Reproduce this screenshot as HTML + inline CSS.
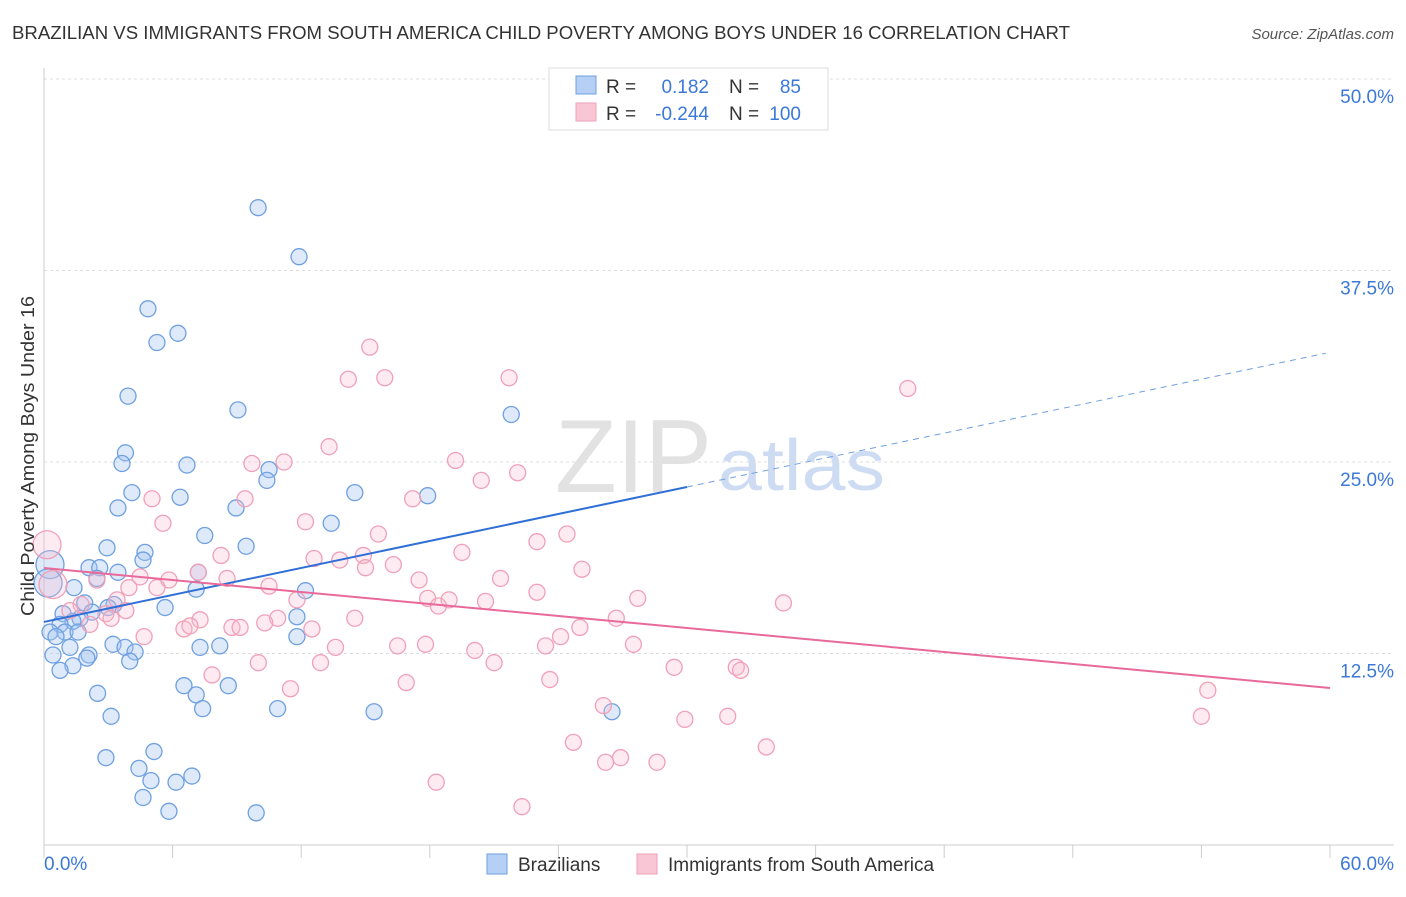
<!DOCTYPE html>
<html><head><meta charset="utf-8"><style>
body{margin:0;background:#fff;font-family:"Liberation Sans",sans-serif;}
svg text{font-family:"Liberation Sans",sans-serif;}
</style></head><body>
<svg id="chart" width="1406" height="892" xmlns="http://www.w3.org/2000/svg">
<text x="12" y="39" font-size="18" fill="#333" textLength="1058" lengthAdjust="spacingAndGlyphs">BRAZILIAN VS IMMIGRANTS FROM SOUTH AMERICA CHILD POVERTY AMONG BOYS UNDER 16 CORRELATION CHART</text>
<text x="1394" y="39" font-size="15" fill="#555" text-anchor="end" font-style="italic">Source: ZipAtlas.com</text>
<text x="555" y="492" font-size="104" fill="#e2e2e2" textLength="157" lengthAdjust="spacingAndGlyphs" font-family="Liberation Serif">ZIP</text>
<text x="718" y="490" font-size="72" fill="#cddcf2" textLength="167" lengthAdjust="spacingAndGlyphs">atlas</text>
<g id="grid"></g><g id="axes"></g><g id="pts"></g><g id="lines"></g>
<text transform="translate(34,456) rotate(-90)" font-size="18" fill="#333" text-anchor="middle" textLength="320" lengthAdjust="spacingAndGlyphs">Child Poverty Among Boys Under 16</text>
<g>
<rect x="549" y="68" width="279" height="62" fill="#fff" stroke="#ddd"/>
<rect x="576" y="76" width="20" height="18" fill="#b5cff5" stroke="#6fa0e0"/>
<rect x="576" y="103" width="20" height="18" fill="#f9c6d5" stroke="#f0a0b8"/>
<text x="606" y="93" font-size="19" fill="#333">R =</text>
<text x="709" y="93" font-size="19" fill="#3b78d8" text-anchor="end">0.182</text>
<text x="729" y="93" font-size="19" fill="#333">N =</text>
<text x="801" y="93" font-size="19" fill="#3b78d8" text-anchor="end">85</text>
<text x="606" y="120" font-size="19" fill="#333">R =</text>
<text x="709" y="120" font-size="19" fill="#3b78d8" text-anchor="end">-0.244</text>
<text x="729" y="120" font-size="19" fill="#333">N =</text>
<text x="801" y="120" font-size="19" fill="#3b78d8" text-anchor="end">100</text>
</g>
<g>
<rect x="487" y="854" width="20" height="20" fill="#b5cff5" stroke="#6fa0e0"/>
<text x="518" y="871" font-size="19" fill="#333">Brazilians</text>
<rect x="637" y="854" width="20" height="20" fill="#f9c6d5" stroke="#f0a0b8"/>
<text x="668" y="871" font-size="19" fill="#333">Immigrants from South America</text>
</g>
</svg>
<script>
const yTicks=[12.5,25,37.5,50];
const yTickLabels=["12.5%","25.0%","37.5%","50.0%"];
const xTicks=[0,6,12,18,24,30,36,42,48,54,60];
const blueX=[9.99,11.9,4.85,6.25,5.27,3.92,9.05,21.8,3.8,3.64,6.67,10.5,10.4,4.1,6.35,14.5,17.9,3.45,8.96,13.4,7.5,9.43,2.94,4.71,4.62,2.1,2.6,3.45,7.2,2.47,7.1,12.2,1.4,1.9,3.27,2.99,5.65,2.24,0.89,1.68,11.8,1.35,0.75,0.28,0.98,0.56,1.59,11.8,3.22,3.78,7.28,8.2,1.21,4.25,2.1,0.42,2.0,4.0,1.35,0.75,6.53,8.6,2.5,7.1,7.4,10.9,15.4,26.5,3.13,5.13,2.89,4.43,4.99,6.9,6.16,4.62,5.83,9.9];
const blueY=[41.6,38.4,35.0,33.4,32.8,29.3,28.4,28.1,25.6,24.9,24.8,24.5,23.8,23.0,22.7,23.0,22.8,22.0,22.0,21.0,20.2,19.5,19.4,19.1,18.6,18.1,18.1,17.8,17.8,17.4,16.7,16.6,16.8,15.8,15.7,15.5,15.5,15.2,15.1,14.8,14.9,14.6,14.4,13.9,13.9,13.6,13.9,13.6,13.1,12.9,12.9,13.0,12.9,12.6,12.4,12.4,12.2,12.0,11.7,11.4,10.4,10.4,9.9,9.8,8.9,8.9,8.7,8.7,8.4,6.1,5.7,5.0,4.2,4.5,4.1,3.1,2.2,2.1];
const blueBigX=[0.28,0.19];
const blueBigY=[18.3,17.1];
const pinkX=[15.2,14.2,15.9,21.7,40.3,13.3,19.2,9.7,11.2,22.1,20.4,5.04,17.2,9.38,5.55,12.2,15.6,24.4,23.0,19.5,8.26,12.6,14.9,13.8,16.3,15.0,25.1,4.48,5.83,7.2,8.54,17.5,21.3,2.47,3.96,5.27,10.5,23.0,17.9,18.9,27.7,11.8,20.6,18.4,34.5,1.73,3.41,3.82,1.21,2.89,7.28,14.5,26.7,10.9,10.3,3.13,2.14,6.53,6.81,8.77,9.15,12.5,25.0,24.1,4.67,17.8,16.5,13.6,23.4,27.5,20.1,12.9,10.0,21.0,29.4,32.3,32.5,7.84,16.9,23.6,11.5,54.3,26.1,31.9,29.9,54.0,24.7,33.7,26.9,26.2,28.6,18.3,22.3];
const pinkY=[32.5,30.4,30.5,30.5,29.8,26.0,25.1,24.9,25.0,24.3,23.8,22.6,22.6,22.6,21.0,21.1,20.3,20.3,19.8,19.1,18.9,18.7,18.9,18.6,18.3,18.1,18.0,17.5,17.3,17.8,17.4,17.3,17.4,17.3,16.8,16.8,16.9,16.5,16.1,16.0,16.1,16.0,15.9,15.6,15.8,15.7,16.0,15.3,15.3,15.1,14.7,14.8,14.8,14.8,14.5,14.8,14.4,14.1,14.3,14.2,14.2,14.1,14.2,13.6,13.6,13.1,13.0,12.9,13.0,13.1,12.7,11.9,11.9,11.9,11.6,11.6,11.4,11.1,10.6,10.8,10.2,10.1,9.1,8.4,8.2,8.4,6.7,6.4,5.7,5.4,5.4,4.1,2.5];
const pinkBigX=[0.14,0.42];
const pinkBigY=[19.6,17.0];
const blueTrendX=[0,30,59.8];
const blueTrendY=[14.56,23.37,32.1];
const pinkTrendX=[0,60];
const pinkTrendY=[18.08,10.25];

const X0=44,X1=1330,Y0=845,PPY=15.32;
const sx=v=>X0+(X1-X0)*v/60, sy=v=>Y0-v*PPY;
const NS="http://www.w3.org/2000/svg";
function mk(t,a,p){const e=document.createElementNS(NS,t);for(const k in a)e.setAttribute(k,a[k]);document.getElementById(p).appendChild(e);return e;}
yTicks.forEach((t,i)=>{
 const g=mk('line',{x1:X0,x2:1394,y1:sy(t),y2:sy(t),stroke:'#ddd','stroke-dasharray':'3,3'},'grid');
 
 
 const l=mk('text',{x:1394,y:sy(t)+24,'font-size':19,fill:'#3b78d8','text-anchor':'end'},'axes');
 l.textContent=yTickLabels[i];
 
 
});
const ax=mk('line',{x1:X0,x2:1394,y1:Y0,y2:Y0,stroke:'#ccc'},'axes');


const ay=mk('line',{x1:X0,x2:X0,y1:68,y2:Y0,stroke:'#ccc'},'axes');


xTicks.forEach(t=>{const e=mk('line',{x1:sx(t),x2:sx(t),y1:Y0,y2:Y0+13,stroke:'#ccc'},'axes');
 
 });
const xl0=mk('text',{x:44,y:870,'font-size':19,fill:'#3b78d8'},'axes');xl0.textContent='0.0%';


const xl1=mk('text',{x:1394,y:870,'font-size':19,fill:'#3b78d8','text-anchor':'end'},'axes');xl1.textContent='60.0%';


function dots(xs,ys,r,fill,stroke,name){xs.forEach((x,i)=>{const c=mk('circle',{cx:sx(x),cy:sy(ys[i]),r:r,fill:fill,stroke:stroke,'stroke-width':1.3},'pts');
 
 });}
dots(blueX,blueY,8,'rgba(160,195,240,0.35)','#6fa0e0','brazilian-point');
dots(blueBigX,blueBigY,14,'rgba(160,195,240,0.35)','#6fa0e0','brazilian-point');
dots(pinkX,pinkY,8,'rgba(248,190,210,0.3)','#f0a0b8','immigrant-point');
dots(pinkBigX,pinkBigY,14,'rgba(248,190,210,0.3)','#f0a0b8','immigrant-point');
const b1=mk('line',{x1:sx(blueTrendX[0]),y1:sy(blueTrendY[0]),x2:sx(blueTrendX[1]),y2:sy(blueTrendY[1]),stroke:'#2f6fd6','stroke-width':2},'lines');


const b2=mk('line',{x1:sx(blueTrendX[1]),y1:sy(blueTrendY[1]),x2:sx(blueTrendX[2]),y2:sy(blueTrendY[2]),stroke:'#6fa0e0','stroke-width':1,'stroke-dasharray':'6,5'},'lines');


const p1=mk('line',{x1:sx(pinkTrendX[0]),y1:sy(pinkTrendY[0]),x2:sx(pinkTrendX[1]),y2:sy(pinkTrendY[1]),stroke:'#e8699a','stroke-width':2},'lines');


</script>
</body></html>
